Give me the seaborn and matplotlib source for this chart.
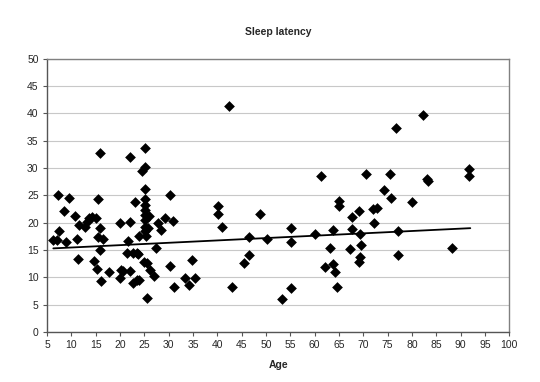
import matplotlib
matplotlib.use("Agg")
import matplotlib.pyplot as plt
import seaborn as sns
import numpy as np
import pandas as pd

# values
age = [6.3, 7.0, 7.5, 7.3, 8.4, 9.0, 9.6, 10.8, 11.2, 11.6,
       11.4, 12.8, 13.2, 13.7, 14.2, 15.1, 14.7, 15.2, 15.5, 15.8,
       15.8, 15.5, 15.8, 16.6, 16.2, 17.7, 20.0, 20.2, 20.0, 20.7,
       21.7, 22.1, 22.1, 22.1, 21.5, 23.1, 22.7, 23.4, 23.8, 22.6,
       23.4, 24.0, 24.0, 24.5, 25.2, 25.2, 25.2, 25.2, 25.2, 25.2,
       25.2, 25.2, 25.2, 25.2, 25.3, 25.8, 26.0, 25.6, 24.9, 25.6,
       26.2, 26.9, 27.4, 27.9, 28.4, 29.3, 30.2, 30.3, 31.0, 31.1,
       33.4, 34.1, 34.8, 35.4, 40.2, 40.2, 40.9, 42.4, 43.1, 45.5,
       46.6, 46.6, 48.8, 50.2, 53.4, 55.2, 55.2, 55.2, 60.1, 61.3,
       62.2, 63.2, 63.7, 63.8, 64.2, 64.6, 65.1, 65.1, 67.2, 67.7,
       67.7, 69.2, 69.4, 69.5, 69.4, 69.2, 70.5, 72.1, 72.9, 72.3,
       74.2, 75.5, 75.7, 76.8, 77.1, 77.2, 80.1, 82.3, 83.2, 83.4,
       88.3, 91.8, 91.7]
latency = [16.8, 16.8, 18.4, 25.0, 22.2, 16.4, 24.6, 21.2, 17.0, 19.5,
           13.4, 19.3, 20.2, 20.8, 21.1, 20.8, 13.0, 11.5, 24.4, 32.8,
           19.1, 17.3, 15.0, 17.0, 9.3, 11.0, 20.0, 11.4, 9.9, 11.2,
           16.7, 20.2, 32.1, 11.2, 14.4, 23.7, 14.4, 14.5, 14.3, 8.9,
           9.5, 9.6, 17.6, 29.5, 30.2, 33.6, 26.1, 24.3, 23.3, 22.3,
           21.4, 20.5, 19.3, 18.4, 17.5, 19.0, 21.2, 6.2, 12.8, 12.6,
           11.4, 10.3, 15.3, 20.0, 18.7, 20.9, 25.0, 12.0, 20.4, 8.2,
           9.9, 8.6, 13.1, 9.8, 23.1, 21.6, 19.2, 41.3, 8.3, 12.7,
           14.0, 17.3, 21.6, 17.0, 6.0, 19.0, 16.4, 8.1, 17.9, 28.6,
           11.8, 15.3, 18.6, 12.5, 10.9, 8.2, 24.0, 23.1, 15.1, 21.0,
           18.9, 22.1, 18.0, 15.9, 13.8, 12.8, 28.9, 22.5, 22.7, 20.0,
           25.9, 29.0, 24.5, 37.4, 18.4, 14.0, 23.8, 39.7, 28.0, 27.7,
           15.3, 29.9, 28.6]
# linear trend line as drawn in the picture (ends of the line)
trend_age = [6.3, 92.0]
trend_latency = [15.3, 19.0]
x_ticks = list(range(5, 101, 5))
y_ticks = list(range(0, 51, 5))

df = pd.DataFrame({"Age": age, "Latency": latency})
trend = pd.DataFrame({"Age": trend_age, "Latency": trend_latency})

sns.set_style("white")
plt.rcParams['font.family'] = ['Liberation Sans', 'DejaVu Sans']

fig = plt.figure(figsize=(5.4, 3.82), dpi=100)
ax = fig.add_axes([0.087, 0.131, 0.856, 0.715])

sns.scatterplot(data=df, x="Age", y="Latency", ax=ax, marker="D",
                color="black", s=30, linewidth=0, zorder=3)
sns.lineplot(data=trend, x="Age", y="Latency", ax=ax, color="black",
             lw=1.3, zorder=4)

ax.set_xlim(5, 100)
ax.set_ylim(0, 50)
ax.set_xticks(x_ticks)
ax.set_yticks(y_ticks)
ax.yaxis.grid(True, color="#c8c8c8", lw=0.8)
ax.set_axisbelow(True)
for side in ["top", "right", "left", "bottom"]:
    ax.spines[side].set_color("#808080")
    ax.spines[side].set_linewidth(1.0)
ax.spines["left"].set_color("#555555")
ax.spines["bottom"].set_color("#555555")
ax.tick_params(axis="both", labelsize=7.5, length=3, direction="out",
               color="#555555", left=True, bottom=True, pad=3)
ax.set_xlabel("Age", fontsize=7.5, fontweight="bold", labelpad=7)
ax.set_ylabel("")
ax.set_title("Sleep latency", fontsize=7.5, fontweight="bold", pad=17.5)

fig.savefig("out.png", dpi=100)
